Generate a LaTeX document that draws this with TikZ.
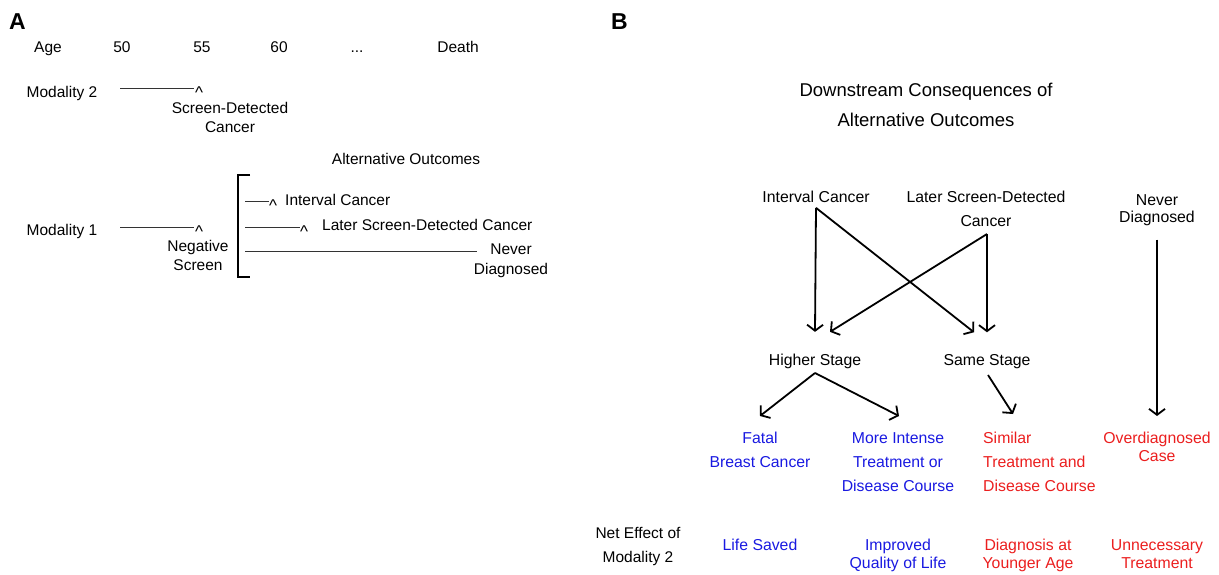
\documentclass[tikz,border=0pt]{standalone}
\usepackage{fontspec}
\setmainfont{Liberation Sans}
\usetikzlibrary{arrows.meta}
\definecolor{myblue}{RGB}{25,25,225}
\definecolor{myred}{RGB}{235,30,30}
\tikzset{
  txt/.style={inner sep=0pt, align=center, anchor=north, font=\fontsize{15.5}{19}\selectfont},
  lab/.style={inner sep=0pt, anchor=base, font=\fontsize{15.5}{19}\selectfont},
  txtB/.style={inner sep=0pt, align=center, anchor=north, font=\fontsize{15.8}{24}\selectfont},
  labB/.style={inner sep=0pt, anchor=base, font=\fontsize{15.8}{24}\selectfont},
  caret/.style={inner sep=0pt, anchor=base, font=\fontsize{17}{17}\selectfont},
  tl/.style={line width=0.9pt, black!80},
  arr/.style={line width=1.8pt, -{Straight Barb[length=6pt,width=16pt]}},
  panel/.style={inner sep=0pt, anchor=base west, font=\fontsize{23}{23}\bfseries\selectfont}
}
\begin{document}
\begin{tikzpicture}[x=1pt,y=-1pt]
\useasboundingbox (0,0) rectangle (1219,574);
% ---------------- Panel A ----------------
\node[panel] (A) at (9,29) {A};
\node[lab] (age) at (48,52.5) {Age};
\node[lab] (a50) at (122,52.5) {50};
\node[lab] (a55) at (202,52.5) {55};
\node[lab] (a60) at (279,52.5) {60};
\node[lab] (dots) at (357,52.5) {...};
\node[lab] (death) at (458,52.5) {Death};

\node[lab] (m2) at (62,97.5) {Modality 2};
\coordinate (m2s) at (120,88);
\coordinate (m2e) at (194,88);
\draw[tl] (m2s) -- (m2e);
\node[caret] (c1) at (199,98) {\symbol{94}};
\node[txt] (sdc) at (230,102.3) {Screen-Detected\\Cancer};

\node[lab] (alt) at (406,164.5) {Alternative Outcomes};

\node[lab] (m1) at (62,235.5) {Modality 1};
\coordinate (m1s) at (120,227);
\coordinate (m1e) at (194,227);
\draw[tl] (m1s) -- (m1e);
\node[caret] (c2) at (199,237) {\symbol{94}};
\node[txt] (neg) at (198,240.3) {Negative\\Screen};

\coordinate (bt) at (250,175);
\coordinate (bb) at (250,277);
\draw[line width=1.9pt] (bt) -- (238,175) -- (238,277) -- (bb);

\coordinate (i1) at (245,201);
\coordinate (i2) at (269,201);
\draw[tl] (i1) -- (i2);
\node[caret] (c3) at (273,211) {\symbol{94}};
\node[lab, anchor=base west] (ica) at (285,205.5) {Interval Cancer};

\coordinate (l1) at (245,227);
\coordinate (l2) at (300,227);
\draw[tl] (l1) -- (l2);
\node[caret] (c4) at (304,237) {\symbol{94}};
\node[lab, anchor=base west] (lsa) at (322,230.5) {Later Screen-Detected Cancer};

\coordinate (n1) at (245,251);
\coordinate (n2) at (477,251);
\draw[tl] (n1) -- (n2);
\node[txt, font=\fontsize{15.5}{20}\selectfont] (nda) at (511,243.3) {Never\\Diagnosed};

% ---------------- Panel B ----------------
\node[panel] (B) at (611,29) {B};
\node[txtB, font=\fontsize{18.5}{30}\selectfont] (title) at (926,83) {Downstream Consequences of\\Alternative Outcomes};

\node[labB] (ic) at (816,202.5) {Interval Cancer};
\node[txtB] (ls) at (986,191) {Later Screen-Detected\\Cancer};
\node[txtB, font=\fontsize{15.8}{17}\selectfont] (nd) at (1157,194) {Never\\Diagnosed};

\node[labB] (hs) at (815,365.5) {Higher Stage};
\node[labB] (ss) at (987,365.5) {Same Stage};

\node[txtB, text=myblue] (fatal) at (760,432) {Fatal\\Breast Cancer};
\node[txtB, text=myblue] (mi) at (898,432) {More Intense\\Treatment or\\Disease Course};
\node[txtB, text=myred, align=left, anchor=north west] (sim) at (983,432) {Similar\\Treatment and\\Disease Course};
\node[txtB, text=myred, font=\fontsize{15.8}{18}\selectfont] (od) at (1157,432) {Overdiagnosed\\Case};

\draw[arr] ([yshift=-5pt]ic.south) -- ([yshift=22pt]hs.north);
\draw[arr] ([yshift=-5pt]ic.south) -- ([xshift=-13pt,yshift=22pt]ss.north);
\draw[arr] ([xshift=1pt,yshift=-7pt]ls.south) -- ([yshift=22pt]ss.north);
\draw[arr] ([xshift=1pt,yshift=-7pt]ls.south) -- ([xshift=15pt,yshift=22pt]hs.north);
\draw[arr] ([yshift=-14pt]nd.south) -- ([yshift=16pt]od.north);
\draw[arr] ([yshift=-4pt]hs.south) -- ([yshift=16pt]fatal.north);
\draw[arr] ([yshift=-4pt]hs.south) -- ([xshift=1pt,yshift=16pt]mi.north);
\draw[arr] ([xshift=1pt,yshift=-6pt]ss.south) -- ([xshift=30pt,yshift=18pt]sim.north west);

\node[txtB, font=\fontsize{15.5}{24}\selectfont] (net) at (638,527.3) {Net Effect of\\Modality 2};
\node[labB, text=myblue] (life) at (760,550.5) {Life Saved};
\node[txtB, text=myblue, font=\fontsize{15.8}{18}\selectfont] (qol) at (898,539.3) {Improved\\Quality of Life};
\node[txtB, text=myred, font=\fontsize{15.8}{18}\selectfont] (dya) at (1028,539.3) {Diagnosis at\\Younger Age};
\node[txtB, text=myred, font=\fontsize{15.8}{18}\selectfont] (ut) at (1157,539.3) {Unnecessary\\Treatment};
\end{tikzpicture}
\end{document}
